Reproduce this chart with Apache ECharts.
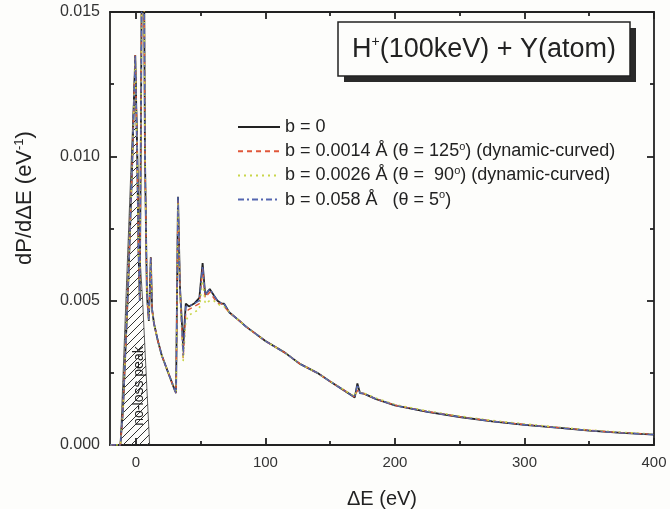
<!DOCTYPE html>
<html>
<head>
<meta charset="utf-8">
<script src="https://cdn.jsdelivr.net/npm/echarts@6/dist/echarts.min.js"></script>
<style>html,body{margin:0;padding:0;background:#fdfdfb;}#c{width:670px;height:509px;}</style>
</head>
<body>
<div id="c"></div>
<script>
// ---- data ----
const xValues = [-20,-12,-10,-6,-3,-0.5,1,2,3,4,5.5,7,8.5,10,11.5,12.5,14,17,20,25,30,31,32.5,34,36.5,38.5,41,45,49,51.5,53.5,57,60,63,66,68,72,80,85,100,115,127,140,150,169,171,173,176,185,200,225,250,275,300,325,350,375,400];
const yB0 =     [0,0,0.0012,0.0055,0.0095,0.0135,0.0100,0.0068,0.0050,0.012,0.024,0.010,0.0052,0.0043,0.0065,0.0047,0.0042,0.0036,0.0031,0.0025,0.0019,0.0018,0.0086,0.0055,0.0034,0.0049,0.0048,0.0049,0.0051,0.0063,0.0052,0.0054,0.0052,0.0050,0.0049,0.0049,0.0046,0.0043,0.0041,0.0036,0.0032,0.0028,0.0025,0.0022,0.00165,0.00213,0.0018,0.00178,0.0016,0.00137,0.00115,0.00097,0.00082,0.00070,0.00060,0.00050,0.00042,0.00036];
const yB0014 =  [0,0,0.0012,0.0055,0.0095,0.0135,0.0100,0.0068,0.0050,0.012,0.024,0.010,0.0052,0.0043,0.0065,0.0047,0.0042,0.0036,0.0031,0.0025,0.0019,0.0018,0.0085,0.0054,0.0030,0.0046,0.0047,0.0048,0.0049,0.0061,0.0051,0.0053,0.0051,0.0049,0.0049,0.0048,0.0046,0.0043,0.0041,0.0036,0.0032,0.0028,0.0025,0.0022,0.00166,0.0019,0.0018,0.00178,0.0016,0.00138,0.00116,0.00098,0.00083,0.00071,0.00061,0.00051,0.00043,0.00037];
const yB0026 =  [0,0,0.0012,0.0055,0.0095,0.0134,0.0100,0.0068,0.0050,0.012,0.024,0.010,0.0052,0.0043,0.0064,0.0047,0.0042,0.0036,0.0031,0.0025,0.0019,0.0018,0.0084,0.0053,0.0029,0.0043,0.0045,0.0046,0.0047,0.0058,0.0049,0.0050,0.0050,0.0049,0.0048,0.0048,0.0046,0.0043,0.0041,0.0036,0.0032,0.0028,0.0025,0.0022,0.00168,0.0020,0.00182,0.0018,0.00163,0.0014,0.00118,0.00100,0.00085,0.00073,0.00062,0.00052,0.00044,0.00038];
const yB058 =   [0,0,0.0012,0.0055,0.0095,0.0135,0.0100,0.0068,0.0050,0.012,0.024,0.010,0.0052,0.0043,0.0065,0.0047,0.0042,0.0036,0.0031,0.0025,0.0019,0.0018,0.0086,0.0055,0.0031,0.0048,0.0048,0.0049,0.0050,0.0062,0.0052,0.0054,0.0052,0.0050,0.0049,0.0049,0.0046,0.0043,0.0041,0.0036,0.0032,0.0028,0.0025,0.0022,0.00165,0.0021,0.0018,0.00178,0.0016,0.00137,0.00115,0.00097,0.00082,0.00070,0.00060,0.00050,0.00042,0.00036];
const hatchX = [-12,-0.5,1.3,2.9,5.2,10.6];
const hatchY = [0,0.0135,0.0102,0.0067,0.005,0];
const seriesNames = ['b = 0','b = 0.0014 Å (θ = 125°) (dynamic-curved)','b = 0.0026 Å (θ =  90°) (dynamic-curved)','b = 0.058 Å   (θ = 5°)'];
const xMajorTicks = [0,100,200,300,400];
const xMinorTicks = [50,150,250,350];
const yTickLabelDigits = 3;

const FONT = 'Arial, "Liberation Sans", sans-serif';
const zip = (xs, ys) => xs.map((x, i) => [x, ys[i]]);

// hatch pattern
const pc = document.createElement('canvas');
pc.width = 8; pc.height = 8;
const pctx = pc.getContext('2d');
pctx.strokeStyle = '#333'; pctx.lineWidth = 1;
pctx.beginPath(); pctx.moveTo(0, 8); pctx.lineTo(8, 0); pctx.stroke();
pctx.beginPath(); pctx.moveTo(-1, 1); pctx.lineTo(1, -1); pctx.stroke();
pctx.beginPath(); pctx.moveTo(7, 9); pctx.lineTo(9, 7); pctx.stroke();

const axisLineStyle = { color: '#222', width: 1.8 };

const chart = echarts.init(document.getElementById('c'), null, { renderer: 'canvas' });
chart.setOption({
  backgroundColor: '#fdfdfb',
  animation: false,
  grid: { left: 110, right: 16, top: 12, bottom: 64, containLabel: false, outerBoundsMode: 'none' },
  legend: {
    data: seriesNames,
    orient: 'vertical',
    left: 237, top: 117, padding: 0,
    itemWidth: 42, itemHeight: 14, itemGap: 4.2,
    itemStyle: { opacity: 0 },
    textStyle: { fontFamily: FONT, fontSize: 18, lineHeight: 20, color: '#222',
      rich: { sup: { fontSize: 11, fontFamily: FONT, color: '#222', lineHeight: 20, padding: [0, 0, 9, 0] } } },
    formatter: n => n.replace('°', '{sup|o}')
  },
  xAxis: [
    { type: 'value', position: 'bottom', min: -20, max: 400,
      name: 'ΔE (eV)', nameLocation: 'middle', nameGap: 44,
      nameTextStyle: { fontFamily: FONT, fontSize: 20, color: '#222' },
      axisLine: { show: true, onZero: false, lineStyle: axisLineStyle },
      axisTick: { show: true, inside: true, length: 7, customValues: xMajorTicks, lineStyle: axisLineStyle },
      axisLabel: { customValues: xMajorTicks, fontFamily: FONT, fontSize: 15, color: '#333', margin: 10 },
      splitLine: { show: false } },
    { type: 'value', position: 'bottom', min: -20, max: 400,
      axisLine: { show: false, onZero: false }, axisLabel: { show: false }, splitLine: { show: false },
      axisTick: { show: true, inside: true, length: 4, customValues: xMinorTicks, lineStyle: axisLineStyle } },
    { type: 'value', position: 'top', min: -20, max: 400,
      axisLine: { show: true, onZero: false, lineStyle: axisLineStyle }, axisLabel: { show: false }, splitLine: { show: false },
      axisTick: { show: true, inside: true, length: 7, customValues: xMajorTicks, lineStyle: axisLineStyle } },
    { type: 'value', position: 'top', min: -20, max: 400,
      axisLine: { show: false, onZero: false }, axisLabel: { show: false }, splitLine: { show: false },
      axisTick: { show: true, inside: true, length: 4, customValues: xMinorTicks, lineStyle: axisLineStyle } }
  ],
  yAxis: [
    { type: 'value', position: 'left', min: 0, max: 0.015, interval: 0.005,
      name: 'dP/dΔE (eV{sup|-1})', nameLocation: 'middle', nameGap: 73, nameRotate: 90,
      nameTextStyle: { fontFamily: FONT, fontSize: 22, color: '#222', padding: [0, 0, 0, 61],
        rich: { sup: { fontSize: 13, fontFamily: FONT, color: '#222', padding: [0, 0, 11, 0] } } },
      axisLine: { show: true, onZero: false, lineStyle: axisLineStyle },
      axisTick: { show: true, inside: true, length: 7, lineStyle: axisLineStyle },
      minorTick: { show: true, splitNumber: 2, length: 4, lineStyle: axisLineStyle },
      axisLabel: { fontFamily: FONT, fontSize: 16, color: '#333', margin: 10, formatter: v => v.toFixed(yTickLabelDigits) },
      splitLine: { show: false } },
    { type: 'value', position: 'right', min: 0, max: 0.015, interval: 0.005,
      axisLine: { show: true, onZero: false, lineStyle: axisLineStyle },
      axisTick: { show: true, inside: true, length: 7, lineStyle: axisLineStyle },
      minorTick: { show: true, splitNumber: 2, length: 4, lineStyle: axisLineStyle },
      axisLabel: { show: false }, splitLine: { show: false } }
  ],
  series: [
    { type: 'line', name: 'hatch', data: zip(hatchX, hatchY), symbol: 'none', silent: true,
      lineStyle: { color: '#333', width: 0.8 },
      areaStyle: { color: { image: pc, repetition: 'repeat' }, opacity: 1 }, z: 1 },
    { type: 'line', name: seriesNames[0], data: zip(xValues, yB0), symbol: 'none',
      lineStyle: { color: '#222', width: 1.8, type: 'solid' }, itemStyle: { color: '#222' }, z: 2 },
    { type: 'line', name: seriesNames[1], data: zip(xValues, yB0014), symbol: 'none',
      lineStyle: { color: '#e0573a', width: 1.4, type: [5, 4] }, itemStyle: { color: '#e0573a' }, z: 3 },
    { type: 'line', name: seriesNames[2], data: zip(xValues, yB0026), symbol: 'none',
      lineStyle: { color: '#c9d64a', width: 1.6, type: [2, 4] }, itemStyle: { color: '#c9d64a' }, z: 4 },
    { type: 'line', name: seriesNames[3], data: zip(xValues, yB058), symbol: 'none',
      lineStyle: { color: '#5566b0', width: 1.4, type: [6, 3, 2, 3] }, itemStyle: { color: '#5566b0' }, z: 5 }
  ],
  graphic: [
    { type: 'rect', shape: { x: 344, y: 28, width: 292, height: 54 }, style: { fill: '#2a2a2a' }, z: 10 },
    { type: 'rect', shape: { x: 338, y: 22, width: 292, height: 54 }, style: { fill: '#fdfdfb', stroke: '#222', lineWidth: 1.5 }, z: 11 },
    { type: 'text', x: 484, y: 50, z: 12,
      style: { text: 'H{sup|+}(100keV) + Y(atom)', fontFamily: FONT, fontSize: 27, fill: '#222', align: 'center', verticalAlign: 'middle',
        rich: { sup: { fontSize: 14, fontFamily: FONT, fill: '#222', padding: [0, 0, 15, 0] } } } },
    { type: 'text', x: 139, y: 386, rotation: Math.PI / 2, z: 12,
      style: { text: 'no-loss peak', fontFamily: FONT, fontSize: 14, fill: '#222', align: 'center', verticalAlign: 'middle' } }
  ]
});
</script>
</body>
</html>
